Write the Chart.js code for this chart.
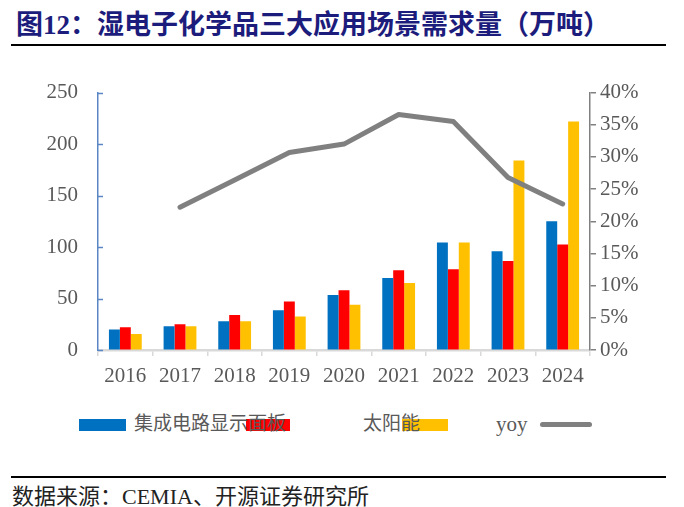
<!DOCTYPE html>
<html>
<head>
<meta charset="utf-8">
<script src="https://cdn.jsdelivr.net/npm/chart.js@4/dist/chart.umd.min.js"></script>
<style>
    body { margin: 0; background: #fff; width: 684px; height: 507px; position: relative; overflow: hidden; }
    .title { position: absolute; left: 16px; top: 3px; font: bold 27px "Liberation Serif", "Noto Sans CJK SC", serif; color: #1c1c7c; white-space: nowrap; }
    .rule { position: absolute; left: 11px; width: 655px; height: 2px; background: #000; }
    .chart-box { position: absolute; left: 0; top: 60px; width: 684px; height: 340px; }
    .legend { position: absolute; left: 0; top: 405px; width: 684px; height: 40px; }
    .lg-box { position: absolute; height: 12px; top: 14px; }
    .lg-text { position: absolute; top: 8px; font: 19px "Liberation Serif", "Noto Sans CJK SC", serif; color: #595959; white-space: nowrap; line-height: 22px; }
    .lg-line { position: absolute; top: 17px; height: 5px; border-radius: 3px; background: #808080; }
    .source { position: absolute; left: 12px; top: 482px; font: 22px "Liberation Serif", "Noto Sans CJK SC", serif; color: #222; white-space: nowrap; line-height: 30px; }
</style>
</head>
<body>
<div class="title">图12：湿电子化学品三大应用场景需求量（万吨）</div>
<div class="rule" style="top:44px"></div>
<div class="chart-box"><canvas id="demand-chart"></canvas></div>
<div class="legend" id="legend"></div>
<div class="rule" style="top:476px"></div>
<div class="source">数据来源：CEMIA、开源证券研究所</div>

<script>
// Categories and series (万吨, yoy in %)
const years = ['2016', '2017', '2018', '2019', '2020', '2021', '2022', '2023', '2024'];
const icValues = [20, 23, 28, 38.5, 53.5, 70, 104.5, 96, 125];
const displayValues = [22, 25, 34, 47, 58, 77.5, 78.5, 86.5, 102.5];
const solarValues = [15.5, 23, 28, 32.5, 44, 65, 104.5, 184, 222];
const yoyValues = [null, 22.2, 26.4, 30.7, 32.0, 36.6, 35.5, 26.8, 22.7];

const seriesNames = ['集成电路', '显示面板', '太阳能', 'yoy'];
const leftTicks = [0, 50, 100, 150, 200, 250];
const rightTicks = [0, 5, 10, 15, 20, 25, 30, 35, 40];

const colors = {
    ic: '#0070C0',
    display: '#FF0000',
    solar: '#FFC000',
    yoy: '#808080',
    text: '#595959'
};

const tickFont = { family: '"Liberation Serif", "Times New Roman", serif', size: 21 };

// Small tick marks pointing into the plot on the left axis
const innerTicks = {
    id: 'innerTicks',
    afterDraw(chart) {
        const scale = chart.scales.y;
        const ctx = chart.ctx;
        ctx.save();
        ctx.strokeStyle = '#5B86C5';
        ctx.lineWidth = 1.5;
        leftTicks.forEach(v => {
            const y = Math.round(scale.getPixelForValue(v)) + 0.5;
            ctx.beginPath();
            ctx.moveTo(scale.right, y);
            ctx.lineTo(scale.right + 5, y);
            ctx.stroke();
        });
        ctx.restore();
    }
};

const ctx = document.getElementById('demand-chart').getContext('2d');
new Chart(ctx, {
    type: 'bar',
    data: {
        labels: years,
        datasets: [
            {
                type: 'line',
                label: seriesNames[3],
                data: yoyValues,
                yAxisID: 'y1',
                borderColor: colors.yoy,
                borderWidth: 5,
                pointRadius: 0,
                tension: 0,
                borderCapStyle: 'round',
                borderJoinStyle: 'round',
                order: 0
            },
            { label: seriesNames[0], data: icValues, backgroundColor: colors.ic, yAxisID: 'y', order: 1 },
            { label: seriesNames[1], data: displayValues, backgroundColor: colors.display, yAxisID: 'y', order: 1 },
            { label: seriesNames[2], data: solarValues, backgroundColor: colors.solar, yAxisID: 'y', order: 1 }
        ]
    },
    options: {
        responsive: true,
        maintainAspectRatio: false,
        animation: false,
        categoryPercentage: 0.6,
        barPercentage: 1.0,
        layout: { padding: { top: 30, left: 0, right: 0, bottom: 0 } },
        plugins: {
            legend: { display: false },
            tooltip: { enabled: false }
        },
        scales: {
            x: {
                grid: { drawOnChartArea: false, drawTicks: true, tickLength: 6, color: '#D9D9D9', lineWidth: 1.5 },
                border: { color: '#D9D9D9', width: 2.5 },
                ticks: { font: tickFont, color: colors.text, padding: 8, maxRotation: 0 },
                afterFit(scale) { scale.height = 50; }
            },
            y: {
                position: 'left',
                min: 0,
                max: 250,
                afterBuildTicks(scale) { scale.ticks = leftTicks.map(v => ({ value: v })); },
                grid: { drawOnChartArea: false, drawTicks: false },
                border: { color: '#5B86C5', width: 1.5 },
                ticks: { font: tickFont, color: colors.text, padding: 20 },
                afterFit(scale) { scale.width = 98; }
            },
            y1: {
                position: 'right',
                min: 0,
                max: 40,
                afterBuildTicks(scale) { scale.ticks = rightTicks.map(v => ({ value: v })); },
                grid: { drawOnChartArea: false, drawTicks: true, tickLength: 6, color: '#808080', lineWidth: 1.5 },
                border: { color: '#808080', width: 1.5 },
                ticks: { font: tickFont, color: colors.text, padding: 4, callback: v => v + '%' },
                afterFit(scale) { scale.width = 94; }
            }
        }
    },
    plugins: [innerTicks]
});

// Legend drawn as HTML so the entries sit where the reference puts them
const legend = document.getElementById('legend');
const legendItems = [
    { html: '<div class="lg-box" style="left:79px;width:47px;background:' + colors.ic + '"></div>' },
    { html: '<div class="lg-box" style="left:246px;width:44px;background:' + colors.display + '"></div>' },
    { html: '<div class="lg-box" style="left:402px;width:46px;background:' + colors.solar + '"></div>' },
    { html: '<div class="lg-text" style="left:134px">' + seriesNames[0] + seriesNames[1] + '</div>' },
    { html: '<div class="lg-text" style="left:363px">' + seriesNames[2] + '</div>' },
    { html: '<div class="lg-text" style="left:496px;font-size:21px">' + seriesNames[3] + '</div>' },
    { html: '<div class="lg-line" style="left:540px;width:52px"></div>' }
];
legend.innerHTML = legendItems.map(i => i.html).join('');
</script>
</body>
</html>
